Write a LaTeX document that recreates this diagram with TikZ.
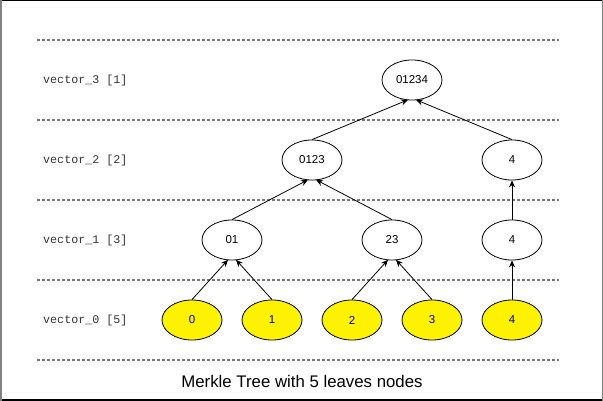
\documentclass[tikz,border=0pt]{standalone}
\usepackage{fontspec}
\setmainfont{Liberation Sans}
\newfontfamily\codefont{Liberation Mono}
\usetikzlibrary{shapes.geometric,arrows.meta,calc}
\begin{document}
\begin{tikzpicture}[x=1pt,y=-1pt,
  levelsep/.style={draw=gray!95!black,line width=2pt,dash pattern=on 3pt off 2pt},
  levellabel/.style={anchor=west,inner sep=0pt,text=black!80,font=\codefont\fontsize{11.7}{13}\selectfont},
  hashnode/.style={ellipse,draw=black,line width=0.8pt,minimum width=60pt,minimum height=40pt,
    inner sep=0pt,font=\fontsize{11.5}{13}\selectfont},
  leafnode/.style={hashnode,fill=yellow},
  link/.style={draw=black,line width=0.8pt,-{Stealth[length=7pt,width=6pt]}}]
  \useasboundingbox (0,0) rectangle (603,401);
  % frame
  \draw[black,line width=1.2pt] (0,0.6) -- (603,0.6);
  \draw[black,line width=1.5pt] (0,400.2) -- (603,400.2);
  \draw[gray,line width=2pt] (1,0) -- (1,401);
  \draw[gray,line width=1pt] (602,0) -- (602,401);
  % level separators
  \foreach \yy in {40,120,200,280,360}
    \draw[levelsep] (37,\yy) -- (559,\yy);
  % level labels
  \node[levellabel] (l3) at (43,80) {vector\_3 [1]};
  \node[levellabel] (l2) at (43,160) {vector\_2 [2]};
  \node[levellabel] (l1) at (43,240) {vector\_1 [3]};
  \node[levellabel] (l0) at (43,320) {vector\_0 [5]};
  % tree nodes
  \node[hashnode] (r) at (412,80) {01234};
  \node[hashnode] (a) at (312,160) {0123};
  \node[hashnode] (b) at (512,160) {4};
  \node[hashnode] (c) at (232,240) {01};
  \node[hashnode] (d) at (392,240) {23};
  \node[hashnode] (e) at (512,240) {4};
  \node[leafnode] (f0) at (192,320) {0};
  \node[leafnode] (f1) at (272,320) {1};
  \node[leafnode] (f2) at (352,320) {2};
  \node[leafnode] (f3) at (432,320) {3};
  \node[leafnode] (f4) at (512,320) {4};
  % links
  \draw[link] (f0.north) -- ($(c.south)+(-4,-0.6)$);
  \draw[link] (f1.north) -- ($(c.south)+(4,-0.6)$);
  \draw[link] (f2.north) -- ($(d.south)+(-4,-0.6)$);
  \draw[link] (f3.north) -- ($(d.south)+(4,-0.6)$);
  \draw[link] (f4.north) -- (e.south);
  \draw[link] (c.north) -- ($(a.south)+(-4,-0.6)$);
  \draw[link] (d.north) -- ($(a.south)+(4,-0.6)$);
  \draw[link] (e.north) -- (b.south);
  \draw[link] (a.north) -- ($(r.south)+(-4,-0.6)$);
  \draw[link] (b.north) -- ($(r.south)+(4,-0.6)$);
  % caption
  \node[font=\fontsize{16.8}{19}\selectfont,inner sep=0pt] (cap) at (302,381) {Merkle Tree with 5 leaves nodes};
\end{tikzpicture}
\end{document}
